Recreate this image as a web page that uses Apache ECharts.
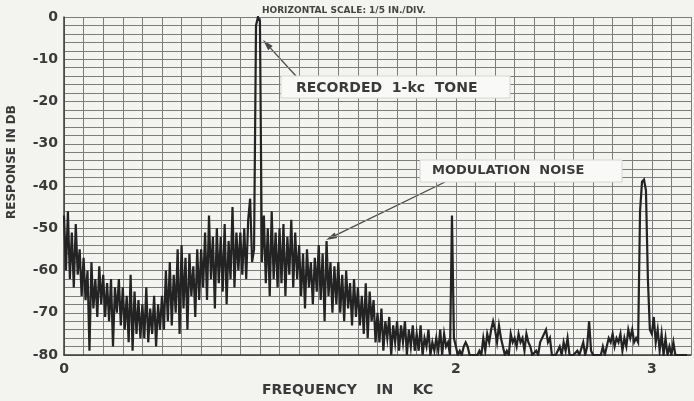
<!DOCTYPE html>
<html>
<head>
<meta charset="utf-8">
<title>Modulation noise spectrum</title>
<script src="https://cdn.jsdelivr.net/npm/echarts@6/dist/echarts.min.js"></script>
<style>
  html, body { margin: 0; padding: 0; background: #f3f3f0; }
  #chart { width: 694px; height: 401px; }
</style>
</head>
<body>
<div id="chart"></div>
<script>
// 频率采样：0 ~ 3.18 kc，每 0.01 kc 一个点
var freqStart = 0;
var freqStep = 0.01;

// 响应 (dB)，每行 = 0.1 kc（一格）
var levelDb = [
  -47, -60, -46, -62, -51, -64, -49, -61, -55, -66,
  -57, -67, -60, -79, -58, -69, -62, -71, -59, -68,
  -61, -71, -63, -72, -62, -78, -64, -70, -62, -73,
  -64, -74, -66, -77, -61, -79, -65, -75, -67, -76,
  -68, -76, -64, -77, -69, -75, -66, -78, -68, -74,
  -66, -74, -60, -72, -58, -73, -61, -70, -55, -75,
  -54, -69, -57, -74, -56, -66, -59, -71, -55, -67,
  -55, -64, -51, -67, -47, -62, -52, -69, -50, -63,
  -52, -65, -49, -68, -53, -62, -45, -64, -51, -60,
  -51, -61, -50, -62, -48, -43, -58, -55, -2, 0,
  -1, -58, -47, -63, -50, -66, -46, -62, -51, -64,
  -50, -63, -49, -66, -52, -61, -48, -64, -51, -62,
  -54, -66, -56, -69, -55, -64, -58, -68, -57, -65,
  -54, -67, -56, -72, -53, -66, -58, -70, -59, -68,
  -58, -70, -61, -72, -60, -69, -63, -73, -62, -71,
  -64, -73, -66, -75, -63, -76, -65, -72, -67, -77,
  -70, -77, -69, -79, -72, -76, -71, -80, -73, -77,
  -72, -79, -73, -77, -72, -80, -74, -78, -73, -79,
  -75, -79, -73, -80, -76, -78, -74, -80, -77, -79,
  -76, -79, -74, -80, -75, -78, -77, -80, -47, -76,
  -76, -80, -79, -80, -78, -77, -78, -80, -80, -80,
  -80, -80, -79, -80, -76, -79, -75, -77, -74, -72,
  -74, -77, -73, -76, -78, -80, -79, -80, -75, -77,
  -76, -78, -75, -77, -76, -79, -75, -77, -78, -80,
  -80, -79, -80, -77, -76, -75, -74, -77, -76, -80,
  -80, -80, -79, -78, -80, -77, -79, -76, -80, -80,
  -80, -80, -79, -80, -80, -77, -80, -78, -72, -79,
  -80, -80, -80, -80, -80, -78, -80, -80, -76, -77,
  -75, -78, -76, -77, -75, -79, -76, -78, -74, -76,
  -74, -77, -76, -77, -46, -39, -38.5, -41, -62, -74,
  -75, -71, -77, -74, -79, -75, -80, -76, -80, -78,
  -80, -77, -80, -80, -80, -80, -80, -80, -80
];

// 坐标轴上带文字的刻度
var dbTickLabels = [0, -10, -20, -30, -40, -50, -60, -70, -80];
var freqTickLabels = [0, 2, 3];

var ink = '#3a3a3a';
var gridInk = '#7c7c7c';
var labelFont = 'DejaVu Sans';

var seriesData = levelDb.map(function (v, i) {
  return [+(freqStart + i * freqStep).toFixed(2), v];
});

// 箭头：直线 + 三角形箭头（指向 x2,y2）
function arrow(x1, y1, x2, y2) {
  var ang = Math.atan2(y2 - y1, x2 - x1);
  var len = 11, half = 3;
  var bx = x2 - len * Math.cos(ang), by = y2 - len * Math.sin(ang);
  var px = -Math.sin(ang) * half, py = Math.cos(ang) * half;
  return [{
    type: 'line',
    shape: { x1: x1, y1: y1, x2: bx, y2: by },
    style: { stroke: '#4a4a4a', lineWidth: 1.3 }
  }, {
    type: 'polygon',
    shape: { points: [[x2, y2], [bx + px, by + py], [bx - px, by - py]] },
    style: { fill: '#4a4a4a' }
  }];
}

var chart = echarts.init(document.getElementById('chart'));

var option = {
  backgroundColor: '#f3f3f0',
  animation: false,
  grid: { left: 64, top: 17, width: 633, height: 338 },
  xAxis: {
    type: 'value',
    min: 0,
    max: 3.2,
    interval: 0.1,
    axisLine: { show: true, onZero: false, lineStyle: { color: ink, width: 1.5 } },
    axisTick: { show: false },
    axisLabel: {
      margin: 7,
      fontSize: 14,
      fontWeight: 'bold',
      fontFamily: labelFont,
      color: ink,
      formatter: function (v) {
        var r = Math.round(v * 10) / 10;
        return freqTickLabels.indexOf(r) >= 0 ? String(r) : '';
      }
    },
    splitLine: { show: true, lineStyle: { color: gridInk, width: 1 } }
  },
  yAxis: {
    type: 'value',
    min: -80,
    max: 0,
    interval: 2,
    axisLine: { show: true, onZero: false, lineStyle: { color: ink, width: 1.5 } },
    axisTick: { show: false },
    axisLabel: {
      margin: 6,
      fontSize: 14,
      fontWeight: 'bold',
      fontFamily: labelFont,
      color: ink,
      formatter: function (v) {
        var r = Math.round(v);
        return dbTickLabels.indexOf(r) >= 0 ? String(r) : '';
      }
    },
    splitLine: { show: true, lineStyle: { color: gridInk, width: 1 } }
  },
  series: [{
    type: 'line',
    data: seriesData,
    showSymbol: false,
    lineStyle: { color: '#232323', width: 2.2, join: 'miter' },
    z: 5
  }],
  graphic: [
    {
      type: 'text', x: 262, y: 11,
      style: {
        text: 'HORIZONTAL SCALE: 1/5 IN./DIV.', fontSize: 9, fontWeight: 'bold',
        fontFamily: labelFont, fill: '#444', textVerticalAlign: 'middle'
      }
    },
    {
      type: 'text', x: 12, y: 162, rotation: Math.PI / 2,
      style: {
        text: 'RESPONSE IN DB', fontSize: 12, fontWeight: 'bold', fontFamily: labelFont,
        fill: ink, textAlign: 'center', textVerticalAlign: 'middle'
      }
    },
    {
      type: 'text', x: 262, y: 390,
      style: {
        text: 'FREQUENCY    IN    KC', fontSize: 14, fontWeight: 'bold', fontFamily: labelFont,
        fill: ink, textVerticalAlign: 'middle'
      }
    },
    // 注释框：1 kc 音
    {
      type: 'rect', shape: { x: 281, y: 76, width: 229, height: 22 },
      style: { fill: '#f9f9f7', stroke: '#d6d6d2', lineWidth: 1 }, z: 10
    },
    {
      type: 'text', x: 296, y: 88, z: 11,
      style: {
        text: 'RECORDED  1-kc  TONE', fontSize: 14, fontWeight: 'bold', fontFamily: labelFont,
        fill: ink, textVerticalAlign: 'middle'
      }
    },
    // 注释框：调制噪声
    {
      type: 'rect', shape: { x: 420, y: 160, width: 202, height: 22 },
      style: { fill: '#f9f9f7', stroke: '#d6d6d2', lineWidth: 1 }, z: 10
    },
    {
      type: 'text', x: 432, y: 171, z: 11,
      style: {
        text: 'MODULATION  NOISE', fontSize: 13, fontWeight: 'bold', fontFamily: labelFont,
        fill: ink, textVerticalAlign: 'middle'
      }
    }
  ].concat(arrow(296, 76, 263, 40), arrow(445, 182, 326, 240))
};

chart.setOption(option);
</script>
</body>
</html>
